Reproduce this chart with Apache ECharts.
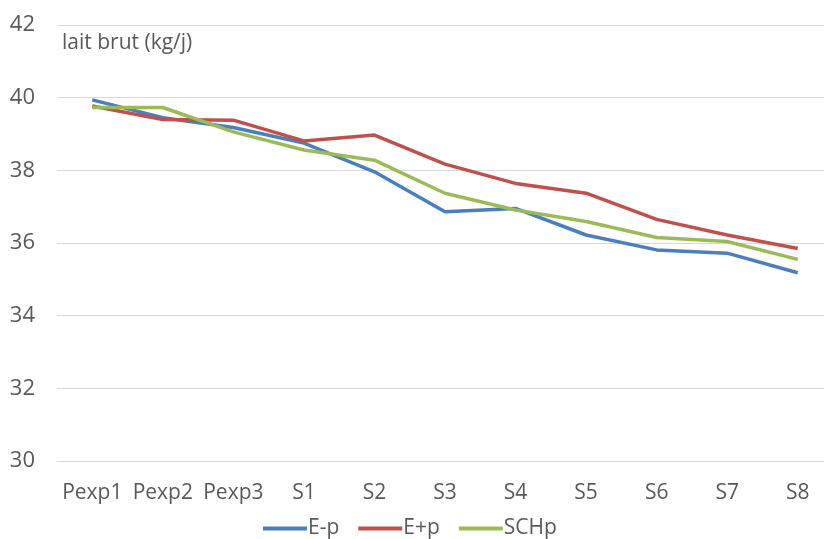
<!DOCTYPE html>
<html><head><meta charset="utf-8">
<script src="https://cdn.jsdelivr.net/npm/echarts@6/dist/echarts.min.js"></script>
<style>html,body{margin:0;padding:0;background:#fff}#c{width:824px;height:539px}</style>
</head><body><div id="c"></div>
<script>
const categories = ['Pexp1','Pexp2','Pexp3','S1','S2','S3','S4','S5','S6','S7','S8'];
const seriesNames = ['E-p','E+p','SCHp'];
const eMinusP = [39.94, 39.45, 39.18, 38.75, 37.96, 36.86, 36.95, 36.22, 35.81, 35.72, 35.18];
const ePlusP  = [39.77, 39.40, 39.38, 38.81, 38.97, 38.17, 37.64, 37.37, 36.65, 36.22, 35.85];
const schp    = [39.73, 39.73, 39.06, 38.56, 38.28, 37.37, 36.91, 36.59, 36.15, 36.04, 35.55];
const colors = ['#4A7EBF', '#C0504D', '#9BBB59'];
const font = '"Open Sans", "Noto Sans", sans-serif';
const chart = echarts.init(document.getElementById('c'), null, {renderer:'canvas'});
const data = [eMinusP, ePlusP, schp];
chart.setOption({
  animation:false,
  textStyle:{fontFamily:font},
  grid:{left:57, width:776, top:25, height:436, containLabel:false, outerBoundsMode:'none'},
  graphic:[{type:'text', left:62, top:33, style:{text:'lait brut (kg/j)', fontSize:21, fill:'#595959', fontFamily:font}}],
  legend:{top:513, left:258, icon:'rect', itemWidth:44, itemHeight:4, itemGap:19, padding:5,
    textStyle:{fontSize:21, color:'#595959', fontFamily:font, padding:[0,0,0,-4]}, data:seriesNames},
  xAxis:{type:'category', data:categories, boundaryGap:true,
    axisLine:{show:true, lineStyle:{color:'#d9d9d9', width:1}}, axisTick:{show:false},
    axisLabel:{fontSize:21, color:'#595959', margin:22, fontFamily:font, interval:0, hideOverlap:false}},
  yAxis:{type:'value', min:30, max:42, interval:2,
    axisLine:{show:false}, axisTick:{show:false},
    splitLine:{lineStyle:{color:'#d9d9d9', width:1}},
    axisLabel:{fontSize:22, color:'#595959', margin:22, fontFamily:font}},
  series: seriesNames.map((n,i)=>({name:n, type:'line', data:data[i], symbol:'none',
    lineStyle:{width:3.5, color:colors[i]}, itemStyle:{color:colors[i]}}))
});
</script></body></html>
